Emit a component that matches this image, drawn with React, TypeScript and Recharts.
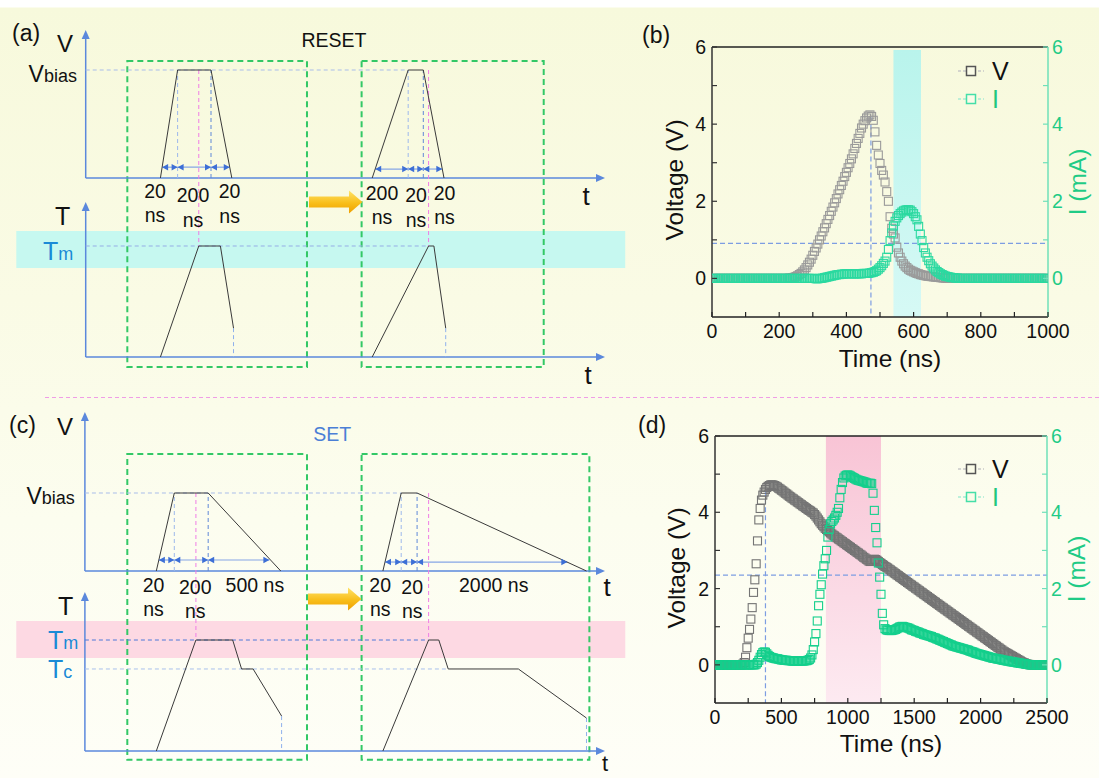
import React from 'react';
import {
  ComposedChart,
  Line,
  Scatter,
  XAxis,
  YAxis,
  ReferenceArea,
  ReferenceLine,
  ReferenceDot,
  Legend,
} from 'recharts';

const FONT = '"Liberation Sans", Arial, Helvetica, sans-serif';

// ---------- (b) RESET measurement, one sample every 5 ns (0 - 1000 ns) ----------
const resetStep = 5;
const resetVolt = [
  // 0-95
  0, 0, 0, 0, 0, 0, 0, 0, 0, 0, 0, 0, 0, 0, 0, 0, 0, 0, 0, 0,
  // 100-195
  0, 0, 0, 0, 0, 0, 0, 0, 0, 0, 0, 0, 0, 0, 0, 0, 0, 0, 0, 0,
  // 200-295
  0, 0, 0, 0, 0, 0, 0.01, 0.01, 0.02, 0.03, 0.05, 0.07, 0.1, 0.13, 0.17, 0.22, 0.28, 0.35, 0.42, 0.5,
  // 300-395
  0.6, 0.7, 0.79, 0.89, 1.0, 1.1, 1.21, 1.31, 1.42, 1.53, 1.63, 1.74, 1.85, 1.96, 2.07, 2.19, 2.3, 2.41, 2.52, 2.64,
  // 400-495
  2.75, 2.87, 2.98, 3.1, 3.23, 3.37, 3.5, 3.63, 3.76, 3.9, 4.0, 4.09, 4.16, 4.21, 4.24, 4.2, 4.1, 3.8, 3.45, 3.2,
  // 500-595
  2.98, 2.8, 2.68, 2.5, 2.25, 2.0, 1.6, 1.3, 1.15, 1.05, 0.81, 0.66, 0.55, 0.45, 0.38, 0.32, 0.28, 0.24, 0.21, 0.19,
  // 600-695
  0.17, 0.15, 0.13, 0.12, 0.1, 0.09, 0.08, 0.07, 0.06, 0.055, 0.05, 0.045, 0.04, 0.035, 0.03, 0.025, 0.02, 0.015, 0.01, 0.01,
  // 700-795
  0, 0, 0, 0, 0, 0, 0, 0, 0, 0, 0, 0, 0, 0, 0, 0, 0, 0, 0, 0,
  // 800-895
  0, 0, 0, 0, 0, 0, 0, 0, 0, 0, 0, 0, 0, 0, 0, 0, 0, 0, 0, 0,
  // 900-995
  0, 0, 0, 0, 0, 0, 0, 0, 0, 0, 0, 0, 0, 0, 0, 0, 0, 0, 0, 0,
  // 1000
  0,
];
const resetCurr = [
  // 0-95
  0, 0, 0, 0, 0, 0, 0, 0, 0, 0, 0, 0, 0, 0, 0, 0, 0, 0, 0, 0,
  // 100-195
  0, 0, 0, 0, 0, 0, 0, 0, 0, 0, 0, 0, 0, 0, 0, 0, 0, 0, 0, 0,
  // 200-295
  0, 0, 0, 0, 0, 0, 0, 0, 0, 0, 0, 0, 0, 0, 0, 0, 0, 0, 0, 0,
  // 300-395
  0, 0, -0.01, -0.01, 0, 0, 0.01, 0.02, 0.03, 0.04, 0.05, 0.06, 0.07, 0.08, 0.09, 0.1, 0.1, 0.11, 0.11, 0.12,
  // 400-495
  0.12, 0.12, 0.12, 0.12, 0.12, 0.12, 0.12, 0.12, 0.12, 0.12, 0.13, 0.13, 0.13, 0.13, 0.14, 0.15, 0.16, 0.18, 0.2, 0.24,
  // 500-595
  0.28, 0.33, 0.39, 0.45, 0.55, 0.75, 0.98, 1.18, 1.36, 1.48, 1.57, 1.63, 1.68, 1.72, 1.75, 1.77, 1.78, 1.78, 1.77, 1.73,
  // 600-695
  1.68, 1.6, 1.52, 1.35, 1.15, 0.98, 0.8, 0.66, 0.55, 0.46, 0.38, 0.32, 0.27, 0.22, 0.18, 0.15, 0.12, 0.1, 0.08, 0.06,
  // 700-795
  0.05, 0.04, 0.03, 0.02, 0.02, 0.01, 0.01, 0, 0, 0, 0, 0, 0, 0, 0, 0, 0, 0, 0, 0,
  // 800-895
  0, 0, 0, 0, 0, 0, 0, 0, 0, 0, 0, 0, 0, 0, 0, 0, 0, 0, 0, 0,
  // 900-995
  0, 0, 0, 0, 0, 0, 0, 0, 0, 0, 0, 0, 0, 0, 0, 0, 0, 0, 0, 0,
  // 1000
  0,
];

// ---------- (d) SET measurement, one sample every 10 ns (0 - 2500 ns) ----------
const setStep = 10;
const setVolt = [
  0, 0, 0, 0, 0, 0, 0, 0, 0, 0, // 0-90
  0, 0, 0, 0, 0, 0, 0, 0, 0, 0, // 100-190
  0, 0.02, 0.06, 0.2, 0.45, 0.7, 0.93, 1.2, 1.5, 1.9, // 200-290
  2.23, 2.65, 3.25, 3.8, 4.1, 4.32, 4.45, 4.53, 4.6, 4.65, // 300-390
  4.68, 4.7, 4.72, 4.72, 4.71, 4.7, 4.68, 4.66, 4.63, 4.61, // 400-490
  4.58, 4.56, 4.53, 4.5, 4.48, 4.45, 4.42, 4.4, 4.37, 4.35, // 500-590
  4.32, 4.3, 4.27, 4.25, 4.22, 4.2, 4.17, 4.15, 4.12, 4.1, // 600-690
  4.07, 4.05, 4.03, 4.0, 3.98, 3.94, 3.9, 3.85, 3.8, 3.75, // 700-790
  3.7, 3.66, 3.62, 3.58, 3.55, 3.52, 3.49, 3.46, 3.43, 3.4, // 800-890
  3.38, 3.35, 3.33, 3.3, 3.28, 3.25, 3.23, 3.2, 3.18, 3.15, // 900-990
  3.13, 3.1, 3.08, 3.05, 3.03, 3.0, 2.98, 2.95, 2.93, 2.9, // 1000-1090
  2.88, 2.85, 2.82, 2.8, 2.77, 2.75, 2.72, 2.71, 2.72, 2.75, // 1100-1190
  2.77, 2.76, 2.74, 2.71, 2.68, 2.66, 2.63, 2.61, 2.58, 2.56, // 1200-1290
  2.54, 2.51, 2.49, 2.46, 2.44, 2.41, 2.39, 2.36, 2.34, 2.31, // 1300-1390
  2.29, 2.26, 2.24, 2.21, 2.19, 2.16, 2.14, 2.11, 2.09, 2.06, // 1400-1490
  2.04, 2.01, 1.99, 1.96, 1.94, 1.91, 1.89, 1.86, 1.84, 1.81, // 1500-1590
  1.79, 1.76, 1.74, 1.71, 1.69, 1.66, 1.64, 1.61, 1.59, 1.56, // 1600-1690
  1.54, 1.51, 1.49, 1.46, 1.44, 1.41, 1.39, 1.36, 1.34, 1.31, // 1700-1790
  1.29, 1.26, 1.24, 1.21, 1.19, 1.16, 1.14, 1.11, 1.09, 1.06, // 1800-1890
  1.04, 1.01, 0.99, 0.96, 0.94, 0.91, 0.89, 0.86, 0.84, 0.81, // 1900-1990
  0.79, 0.76, 0.74, 0.71, 0.69, 0.66, 0.64, 0.61, 0.59, 0.56, // 2000-2090
  0.54, 0.51, 0.49, 0.46, 0.44, 0.41, 0.39, 0.36, 0.34, 0.32, // 2100-2190
  0.3, 0.28, 0.26, 0.24, 0.22, 0.2, 0.18, 0.16, 0.14, 0.12, // 2200-2290
  0.1, 0.08, 0.06, 0.05, 0.03, 0.02, 0.01, 0.01, 0, 0, // 2300-2390
  0, 0, 0, 0, 0, 0, 0, 0, 0, 0, // 2400-2490
  0, // 2500
];
const setCurr = [
  0, 0, 0, 0, 0, 0, 0, 0, 0, 0, // 0-90
  0, 0, 0, 0, 0, 0, 0, 0, 0, 0, // 100-190
  0, 0, 0, 0, 0, 0, 0, 0, 0, 0, // 200-290
  0, 0.02, 0.06, 0.12, 0.2, 0.27, 0.32, 0.34, 0.33, 0.29, // 300-390
  0.25, 0.22, 0.2, 0.19, 0.18, 0.17, 0.16, 0.16, 0.15, 0.14, // 400-490
  0.13, 0.13, 0.12, 0.12, 0.12, 0.11, 0.11, 0.11, 0.1, 0.1, // 500-590
  0.1, 0.1, 0.1, 0.1, 0.1, 0.1, 0.1, 0.1, 0.11, 0.11, // 600-690
  0.12, 0.14, 0.18, 0.26, 0.4, 0.6, 0.82, 1.15, 1.55, 1.85, // 700-790
  2.1, 2.38, 2.6, 2.78, 3.0, 3.35, 3.55, 3.7, 3.76, 3.8, // 800-890
  3.85, 3.92, 4.0, 4.1, 4.38, 4.6, 4.78, 4.9, 4.95, 4.97, // 900-990
  4.98, 4.97, 4.95, 4.93, 4.91, 4.89, 4.87, 4.85, 4.84, 4.83, // 1000-1090
  4.82, 4.81, 4.8, 4.79, 4.77, 4.76, 4.76, 4.76, 4.75, 4.5, // 1100-1190
  4.05, 3.6, 3.2, 2.67, 2.3, 1.85, 1.35, 1.05, 0.95, 0.92, // 1200-1290
  0.91, 0.9, 0.9, 0.9, 0.91, 0.92, 0.93, 0.95, 0.97, 0.99, // 1300-1390
  1.0, 1.01, 1.0, 0.99, 0.98, 0.97, 0.96, 0.94, 0.92, 0.91, // 1400-1490
  0.9, 0.88, 0.87, 0.86, 0.84, 0.83, 0.82, 0.8, 0.79, 0.78, // 1500-1590
  0.77, 0.76, 0.75, 0.74, 0.72, 0.71, 0.7, 0.68, 0.67, 0.65, // 1600-1690
  0.64, 0.62, 0.61, 0.59, 0.58, 0.56, 0.55, 0.53, 0.52, 0.5, // 1700-1790
  0.49, 0.48, 0.47, 0.46, 0.45, 0.44, 0.43, 0.42, 0.41, 0.4, // 1800-1890
  0.39, 0.38, 0.36, 0.35, 0.34, 0.33, 0.31, 0.3, 0.29, 0.28, // 1900-1990
  0.27, 0.26, 0.25, 0.24, 0.23, 0.22, 0.21, 0.2, 0.19, 0.18, // 2000-2090
  0.17, 0.17, 0.16, 0.15, 0.15, 0.14, 0.13, 0.12, 0.12, 0.11, // 2100-2190
  0.1, 0.1, 0.09, 0.08, 0.08, 0.07, 0.07, 0.06, 0.05, 0.05, // 2200-2290
  0.04, 0.04, 0.03, 0.03, 0.02, 0.01, 0.01, 0, 0, 0, // 2300-2390
  0, 0, 0, 0, 0, 0, 0, 0, 0, 0, // 2400-2490
  0, // 2500
];

const resetTimeTicks = [0, 100, 200, 300, 400, 500, 600, 700, 800, 900, 1000];
const resetTimeLabels = [0, 200, 400, 600, 800, 1000];
const setTimeTicks = [0, 250, 500, 750, 1000, 1250, 1500, 1750, 2000, 2250, 2500];
const setTimeLabels = [0, 500, 1000, 1500, 2000, 2500];
const valueTicks = [0, 1, 2, 3, 4, 5, 6];
const valueLabels = [0, 2, 4, 6];

// shaded windows and guide lines of the measurements
const resetWindow = [540, 622];
const resetGuide = { t: 473, v: 4.2, level: 0.91 };
const setWindow = [835, 1250];
const setGuide = { t: 380, v: 4.55, level: 2.35 };

// ---------- schematics: x in schematic time units (t axis 0..100), V in Vbias, T in Tm ----------
type Pt = { x: number; y: number };

const resetPulses: Pt[][] = [
  [{ x: 14.47, y: 0 }, { x: 17.8, y: 1 }, { x: 24.27, y: 1 }, { x: 28.3, y: 0 }],
  [{ x: 55.49, y: 0 }, { x: 62.46, y: 1 }, { x: 65.39, y: 1 }, { x: 69.4, y: 0 }],
];
const resetTemps: Pt[][] = [
  [{ x: 14.47, y: 0 }, { x: 21.9, y: 1 }, { x: 26.09, y: 1 }, { x: 28.63, y: 0.26 }],
  [{ x: 55.49, y: 0 }, { x: 66.41, y: 1 }, { x: 67.44, y: 1 }, { x: 69.73, y: 0.26 }],
];
const resetEdges = [17.8, 24.27, 62.46, 65.39];
const resetMelts = [21.9, 66.41];
const resetSpans = [
  { y: 0.1, xs: [14.8, 17.8, 24.27, 27.9] },
  { y: 0.083, xs: [56.07, 62.46, 65.39, 69.07] },
];

const setPulses: Pt[][] = [
  [{ x: 13.81, y: 0 }, { x: 17.29, y: 1 }, { x: 23.84, y: 1 }, { x: 37.88, y: 0 }],
  [{ x: 57.63, y: 0 }, { x: 61.17, y: 1 }, { x: 64.24, y: 1 }, { x: 97.0, y: 0 }],
];
const setTemps: Pt[][] = [
  [{ x: 13.81, y: 0 }, { x: 21.47, y: 1 }, { x: 28.58, y: 1 }, { x: 30.3, y: 0.739 }, { x: 32.53, y: 0.739 }, { x: 38.04, y: 0.315 }],
  [{ x: 57.63, y: 0 }, { x: 66.47, y: 1 }, { x: 68.44, y: 1 }, { x: 70.26, y: 0.739 }, { x: 83.83, y: 0.739 }, { x: 97.0, y: 0.297 }],
];
const setEdges = [17.29, 23.84, 61.17, 64.24];
const setMelts = [21.47, 66.47];
const setSpans = [
  { y: 0.141, xs: [14.3, 17.29, 23.84, 35.68] },
  { y: 0.115, xs: [58.04, 61.17, 64.24, 93.29] },
];

// ---------- helpers ----------
function head(cx: number, cy: number, dir: string, len: number, half: number, color: string, key: string) {
  let pts: string;
  if (dir === 'up') pts = `${cx},${cy} ${cx - half},${cy + len} ${cx + half},${cy + len}`;
  else if (dir === 'right') pts = `${cx},${cy} ${cx - len},${cy - half} ${cx - len},${cy + half}`;
  else pts = `${cx},${cy} ${cx + len},${cy - half} ${cx + len},${cy + half}`;
  return <polygon key={key} points={pts} fill={color} />;
}

function endMark(ends: string, color: string) {
  return (p: any) => {
    const { cx, cy, index } = p;
    const k = `e-${index}`;
    if (ends === 'both') return head(cx, cy, index === 0 ? 'left' : 'right', 6, 3.2, color, k);
    if (index !== 1) return <g key={k} />;
    return ends === 'up' ? head(cx, cy - 3, 'up', 9, 4, color, k) : head(cx + 3, cy, 'right', 9, 4, color, k);
  };
}

function seg(key: string, pts: Pt[], axis: string, color: string, opt: any = {}) {
  return (
    <Line
      key={key}
      data={pts}
      dataKey="y"
      xAxisId="s"
      yAxisId={axis}
      type="linear"
      stroke={color}
      strokeWidth={opt.w ?? 1}
      strokeDasharray={opt.dash}
      dot={opt.ends ? endMark(opt.ends, opt.ends === 'both' ? '#3d6fd6' : color) : false}
      activeDot={false}
      isAnimationActive={false}
      legendType="none"
    />
  );
}

const goldArrow = (id: string) => (p: any) => {
  const { cx, cy } = p;
  const pts = [[-26.7, -5.5], [13.3, -5.5], [13.3, -11.5], [26.7, 0], [13.3, 11.5], [13.3, 5.5], [-26.7, 5.5]]
    .map(([dx, dy]) => `${cx + dx},${cy + dy}`)
    .join(' ');
  return <polygon points={pts} fill={`url(#gold-${id})`} />;
};

function Schematic({ s }: { s: any }) {
  const xd = [-s.originX / s.unitX, (s.width - s.originX) / s.unitX];
  const vd = [-(s.height - s.vZero) / s.vUnit, s.vZero / s.vUnit];
  const td = [-(s.height - s.tZero) / s.tUnit, s.tZero / s.tUnit];
  const tInV = (t: number) => (s.vZero - s.tZero + t * s.tUnit) / s.vUnit;
  const AX = '#5b88dc';
  const lines: any[] = [];
  lines.push(seg('va', [{ x: 0, y: 0 }, { x: 0, y: s.vTop }], 'v', AX, { w: 1.5, ends: 'up' }));
  lines.push(seg('vt', [{ x: 0, y: 0 }, { x: 100, y: 0 }], 'v', AX, { w: 1.5, ends: 'right' }));
  lines.push(seg('ta', [{ x: 0, y: 0 }, { x: 0, y: s.tTop }], 't', AX, { w: 1.5, ends: 'up' }));
  lines.push(seg('tt', [{ x: 0, y: 0 }, { x: 100, y: 0 }], 't', AX, { w: 1.5, ends: 'right' }));
  lines.push(seg('vb', [{ x: 0, y: 1 }, { x: s.vbiasTo, y: 1 }], 'v', '#a9bde9', { dash: '4 3' }));
  lines.push(seg('tm', [{ x: 0, y: 1 }, { x: s.tmTo, y: 1 }], 't', s.tmColor, { dash: '4 3' }));
  if (s.tcLevel) {
    lines.push(seg('tc', [{ x: 0, y: s.tcLevel }, { x: s.tcTo, y: s.tcLevel }], 't', '#a9c0ec', { dash: '4 3' }));
  }
  s.edges.forEach((x: number, k: number) =>
    lines.push(seg(`ed${k}`, [{ x, y: 0 }, { x, y: 1 }], 'v', k % 2 === 0 ? '#9db8ec' : '#5f88d8', { dash: '4 3' })),
  );
  s.melts.forEach((x: number, k: number) =>
    lines.push(seg(`ml${k}`, [{ x, y: 1 }, { x, y: tInV(1) }], 'v', '#f07de6', { dash: '4 3' })),
  );
  s.temps.forEach((tp: Pt[], k: number) => {
    const last = tp[tp.length - 1];
    lines.push(seg(`dr${k}`, [{ x: last.x, y: last.y }, { x: last.x, y: 0 }], 't', '#8fb0ec', { dash: '4 3' }));
  });
  s.spans.forEach((sp: any, k: number) =>
    sp.xs.slice(1).forEach((x: number, j: number) =>
      lines.push(seg(`sp${k}-${j}`, [{ x: sp.xs[j], y: sp.y }, { x, y: sp.y }], 'v', '#86a6e6', { w: 1.2, ends: 'both' })),
    ),
  );
  s.pulses.forEach((p: Pt[], k: number) => lines.push(seg(`pv${k}`, p, 'v', '#3a3a3a')));
  s.temps.forEach((p: Pt[], k: number) => lines.push(seg(`pt${k}`, p, 't', '#3a3a3a')));

  return (
    <ComposedChart width={s.width} height={s.height} margin={{ top: 0, right: 0, bottom: 0, left: 0 }}>
      <defs>
        <linearGradient id={`gold-${s.id}`} x1="0" y1="0" x2="0" y2="1">
          <stop offset="0%" stopColor="#ffe36a" />
          <stop offset="55%" stopColor="#f8be1a" />
          <stop offset="100%" stopColor="#ee9f00" />
        </linearGradient>
      </defs>
      <XAxis xAxisId="s" dataKey="x" type="number" domain={xd} allowDataOverflow hide />
      <YAxis yAxisId="v" type="number" domain={vd} allowDataOverflow hide />
      <YAxis yAxisId="t" type="number" domain={td} allowDataOverflow hide />
      <ReferenceArea
        xAxisId="s"
        yAxisId="t"
        x1={s.band[0]}
        x2={s.band[1]}
        y1={s.band[2]}
        y2={s.band[3]}
        fill={s.bandColor}
        fillOpacity={1}
        stroke="none"
        ifOverflow="visible"
      />
      {s.boxes.map((b: number[], k: number) => (
        <ReferenceArea
          key={`box${k}`}
          xAxisId="s"
          yAxisId="v"
          x1={b[0]}
          x2={b[1]}
          y1={s.boxY[0]}
          y2={s.boxY[1]}
          fill="none"
          fillOpacity={0}
          stroke="#33c866"
          strokeWidth={2}
          strokeDasharray="6 4"
          ifOverflow="visible"
        />
      ))}
      {lines}
      <ReferenceDot
        xAxisId="s"
        yAxisId="v"
        x={s.arrow.x}
        y={s.arrow.y}
        r={0}
        ifOverflow="visible"
        shape={goldArrow(s.id)}
      />
    </ComposedChart>
  );
}

const resetSpec = {
  id: 'a', width: 640, height: 390,
  originX: 85.7, unitX: 5.163, vZero: 178, vUnit: 108, tZero: 357, tUnit: 111,
  vTop: 1.343, tTop: 1.369,
  pulses: resetPulses, temps: resetTemps, edges: resetEdges, melts: resetMelts, spans: resetSpans,
  vbiasTo: 62.42, tmTo: 66.41, tmColor: '#95ade6',
  boxes: [[8.06, 42.86], [53.44, 88.71]], boxY: [1.083, -1.75],
  band: [-13.44, 104.5, 0.802, 1.135], bandColor: '#c6f8f0',
  arrow: { x: 48.42, y: -0.222 },
};

const setSpec = {
  id: 'c', width: 640, height: 388,
  originX: 84.9, unitX: 5.171, vZero: 181, vUnit: 78, tZero: 361, tUnit: 111,
  vTop: 2.0, tTop: 1.405,
  pulses: setPulses, temps: setTemps, edges: setEdges, melts: setMelts, spans: setSpans,
  vbiasTo: 61.17, tmTo: 66.47, tmColor: '#4d78d8', tcLevel: 0.739, tcTo: 70.41,
  boxes: [[8.2, 42.95], [53.51, 97.56]], boxY: [1.5, -2.42],
  band: [-13.27, 104.5, 0.838, 1.171], bandColor: '#fdd9e3',
  arrow: { x: 48.31, y: -0.359 },
};

// ---------- measured panels ----------
const GREEN_AX = '#6fe0b9';
const GREEN_TX = '#1fcb86';
const TICK_FS = 19.5;

const bottomTick = (labels: number[]) => (p: any) => {
  const { x, y, payload } = p;
  const v = payload.value;
  return (
    <g key={`b-${v}`}>
      <line x1={x} x2={x} y1={y} y2={y - 5} stroke="#222" strokeWidth={1.2} />
      {labels.includes(v) && (
        <text x={x} y={y + 21} textAnchor="middle" fontSize={TICK_FS} fontFamily={FONT} fill="#111">
          {v}
        </text>
      )}
    </g>
  );
};

const leftTick = (p: any) => {
  const { x, y, payload } = p;
  const v = payload.value;
  return (
    <g key={`l-${v}`}>
      <line x1={x} x2={x + 5} y1={y} y2={y} stroke="#333" strokeWidth={1.2} />
      {valueLabels.includes(v) && (
        <text x={x - 6} y={y} dy="0.36em" textAnchor="end" fontSize={TICK_FS} fontFamily={FONT} fill="#111">
          {v}
        </text>
      )}
    </g>
  );
};

const rightTick = (p: any) => {
  const { x, y, payload } = p;
  const v = payload.value;
  return (
    <g key={`r-${v}`}>
      <line x1={x - 5} x2={x} y1={y} y2={y} stroke={GREEN_AX} strokeWidth={1.2} />
      {valueLabels.includes(v) && (
        <text x={x + 4} y={y} dy="0.36em" textAnchor="start" fontSize={TICK_FS} fontFamily={FONT} fill={GREEN_TX}>
          {v}
        </text>
      )}
    </g>
  );
};

const hollowSquare = (color: string) => (p: any) => (
  <rect x={p.cx - 4} y={p.cy - 4} width={8} height={8} fill="none" stroke={color} strokeWidth={1.1} />
);

const LegendBox = ({ items }: { items: any[] }) => (
  <div style={{ fontFamily: FONT }}>
    {items.map((it) => (
      <div key={it.label} style={{ display: 'flex', alignItems: 'center', height: 28 }}>
        <svg width={26} height={14} style={{ display: 'block' }}>
          <line x1={0} x2={26} y1={7} y2={7} stroke={it.dash} strokeWidth={1.5} strokeDasharray="3 2" />
          <rect x={8.5} y={2.5} width={9} height={9} fill="#fafbe8" stroke={it.color} strokeWidth={1.5} />
        </svg>
        <span style={{ marginLeft: 8, fontSize: 25, color: it.text, lineHeight: '28px' }}>{it.label}</span>
      </div>
    ))}
  </div>
);

const legendItems = [
  { label: 'V', color: '#555555', dash: '#c8c8c8', text: '#111' },
  { label: 'I', color: '#45dfa8', dash: '#a8ecd4', text: '#1fc77f' },
];

// axis boxes: left/right 40 px wide, bottom 30 px high, top 2 px high
const AXW = 40;
const AXH = 30;
const TOPH = 2;

function Measured({ m }: { m: any }) {
  const margin = {
    top: m.plot.top - TOPH,
    right: m.plot.right - AXW,
    bottom: m.plot.bottom - AXH,
    left: m.plot.left - AXW,
  };
  return (
    <ComposedChart width={m.width} height={m.height} data={m.rows} margin={margin}>
      <defs>
        <linearGradient id={`win-${m.id}`} x1="0" y1="0" x2="0" y2="1">
          <stop offset="0%" stopColor={m.windowFill[0]} />
          <stop offset="100%" stopColor={m.windowFill[1]} />
        </linearGradient>
      </defs>
      <XAxis
        xAxisId="bot"
        dataKey="t"
        type="number"
        domain={[0, m.xMax]}
        ticks={m.xTicks}
        interval={0}
        height={AXH}
        tickSize={0}
        tickMargin={0}
        tickLine={false}
        axisLine={{ stroke: '#222', strokeWidth: 1.5 }}
        tick={bottomTick(m.xLabels)}
        allowDataOverflow
      />
      <XAxis
        xAxisId="top"
        orientation="top"
        dataKey="t"
        type="number"
        domain={[0, m.xMax]}
        height={TOPH}
        tick={false}
        tickLine={false}
        axisLine={{ stroke: '#222', strokeWidth: 1.5 }}
        allowDataOverflow
      />
      <YAxis
        yAxisId="L"
        type="number"
        domain={[-1, 6]}
        ticks={valueTicks}
        interval={0}
        width={AXW}
        tickSize={0}
        tickMargin={0}
        tickLine={false}
        axisLine={{ stroke: '#333', strokeWidth: 1.5 }}
        tick={leftTick}
        allowDataOverflow
      />
      <YAxis
        yAxisId="R"
        orientation="right"
        type="number"
        domain={[-1, 6]}
        ticks={valueTicks}
        interval={0}
        width={AXW}
        tickSize={0}
        tickMargin={0}
        tickLine={false}
        axisLine={{ stroke: GREEN_AX, strokeWidth: 1.5 }}
        tick={rightTick}
        allowDataOverflow
      />
      <ReferenceArea
        xAxisId="bot"
        yAxisId="L"
        x1={m.window[0]}
        x2={m.window[1]}
        y1={-1}
        y2={m.windowTop}
        fill={`url(#win-${m.id})`}
        fillOpacity={1}
        stroke="none"
      />
      <ReferenceLine xAxisId="bot" yAxisId="L" y={m.guide.level} stroke="#7d9de2" strokeDasharray="5 3" strokeWidth={1.2} />
      <ReferenceLine
        xAxisId="bot"
        yAxisId="L"
        segment={[{ x: m.guide.t, y: m.guide.v }, { x: m.guide.t, y: -1 }]}
        stroke="#7d9de2"
        strokeDasharray="5 3"
        strokeWidth={1.2}
      />
      <Scatter xAxisId="bot" yAxisId="L" dataKey="v" name="V" shape={hollowSquare(m.voltColor)} isAnimationActive={false} />
      <Scatter xAxisId="bot" yAxisId="R" dataKey="i" name="I" shape={hollowSquare(m.currColor)} isAnimationActive={false} />
      <Legend
        layout="vertical"
        align="center"
        verticalAlign="middle"
        wrapperStyle={{ left: m.legend[0], top: m.legend[1], width: 70 }}
        content={() => <LegendBox items={legendItems} />}
      />
    </ComposedChart>
  );
}

const resetRows = resetVolt.map((v, k) => ({ t: k * resetStep, v, i: resetCurr[k] }));
const setRows = setVolt.map((v, k) => ({ t: k * setStep, v, i: setCurr[k] }));

const resetMeasured = {
  id: 'b', width: 459, height: 390,
  plot: { top: 47, right: 51, bottom: 73, left: 72 },
  rows: resetRows, xMax: 1000, xTicks: resetTimeTicks, xLabels: resetTimeLabels,
  window: resetWindow, windowTop: 5.92, windowFill: ['#b9f4ec', '#d6f9f5'],
  guide: resetGuide, voltColor: '#9a9a9a', currColor: '#2bd9a0',
  legend: [318, 57],
};

const setMeasured = {
  id: 'd', width: 459, height: 388,
  plot: { top: 46, right: 52, bottom: 75, left: 75 },
  rows: setRows, xMax: 2500, xTicks: setTimeTicks, xLabels: setTimeLabels,
  window: setWindow, windowTop: 6, windowFill: ['#f8c4d5', '#fdeaf1'],
  guide: setGuide, voltColor: '#747474', currColor: '#14cf8c',
  legend: [318, 65],
};

// ---------- text overlay ----------
const nsLabels = [
  // (a)
  [155, 198, '20'], [155, 222, 'ns'], [193, 201.7, '200'], [193, 226.7, 'ns'], [229.6, 198, '20'], [229.6, 222.7, 'ns'],
  [382, 200, '200'], [382, 224, 'ns'], [416, 201.7, '20'], [416, 226.7, 'ns'], [444.5, 200, '20'], [444.5, 224, 'ns'],
  // (c)
  [153.5, 592, '20'], [153.5, 616, 'ns'], [195.3, 594, '200'], [195.3, 618, 'ns'], [254.9, 592, '500 ns'],
  [380.2, 592, '20'], [380.2, 616, 'ns'], [412.2, 594, '20'], [412.2, 618, 'ns'], [493.7, 592, '2000 ns'],
];

function Overlay() {
  const TM = '#1a8ad6';
  const TITLE = 24.5;
  return (
    <svg
      width={1099}
      height={778}
      style={{ position: 'absolute', left: 0, top: 0, pointerEvents: 'none' }}
      fontFamily={FONT}
    >
      <line x1={45} x2={1099} y1={397.5} y2={397.5} stroke="#f09de6" strokeWidth={1} strokeDasharray="4 3" />

      {/* (a) */}
      <text x={12} y={41} fontSize={23} fill="#111">(a)</text>
      <text x={57} y={52} fontSize={24} fill="#111">V</text>
      <text x={334} y={46.7} fontSize={19.5} fill="#111" textAnchor="middle">RESET</text>
      <text x={28.6} y={82} fontSize={23} fill="#111">V<tspan fontSize={18}>bias</tspan></text>
      <text x={586} y={205} fontSize={26} fill="#111" textAnchor="middle">t</text>
      <text x={55} y={225} fontSize={25} fill="#111">T</text>
      <text x={43} y={260} fontSize={25} fill={TM}>T<tspan fontSize={18}>m</tspan></text>
      <text x={588} y={384} fontSize={26} fill="#111" textAnchor="middle">t</text>

      {/* (c) */}
      <text x={9} y={433} fontSize={23} fill="#111">(c)</text>
      <text x={57} y={435} fontSize={24} fill="#111">V</text>
      <text x={332.3} y={441} fontSize={19.5} fill="#4b7fd6" textAnchor="middle">SET</text>
      <text x={26.5} y={504} fontSize={23} fill="#111">V<tspan fontSize={18}>bias</tspan></text>
      <text x={607} y={596} fontSize={26} fill="#111" textAnchor="middle">t</text>
      <text x={58} y={615} fontSize={25} fill="#111">T</text>
      <text x={48} y={649} fontSize={25} fill={TM}>T<tspan fontSize={18}>m</tspan></text>
      <text x={48} y={678} fontSize={25} fill={TM}>T<tspan fontSize={18}>c</tspan></text>
      <text x={605} y={771} fontSize={22} fill="#111" textAnchor="middle">t</text>

      {nsLabels.map(([x, y, s], k) => (
        <text key={`ns${k}`} x={x as number} y={y as number} fontSize={19.5} fill="#111" textAnchor="middle">
          {s}
        </text>
      ))}

      {/* (b) */}
      <text x={642} y={43} fontSize={23} fill="#111">(b)</text>
      <text x={890} y={367} fontSize={TITLE} fill="#111" textAnchor="middle">Time (ns)</text>
      <text transform="translate(683,180) rotate(-90)" fontSize={TITLE} fill="#111" textAnchor="middle">Voltage (V)</text>
      <text transform="translate(1086,182) rotate(-90)" fontSize={TITLE} fill={GREEN_TX} textAnchor="middle">I (mA)</text>

      {/* (d) */}
      <text x={638} y={433} fontSize={23} fill="#111">(d)</text>
      <text x={891} y={752} fontSize={TITLE} fill="#111" textAnchor="middle">Time (ns)</text>
      <text transform="translate(685,568) rotate(-90)" fontSize={TITLE} fill="#111" textAnchor="middle">Voltage (V)</text>
      <text transform="translate(1085,569) rotate(-90)" fontSize={TITLE} fill={GREEN_TX} textAnchor="middle">I (mA)</text>
    </svg>
  );
}

export default function App() {
  return (
    <div
      style={{
        position: 'absolute',
        left: 0,
        top: 0,
        width: 1099,
        height: 778,
        overflow: 'hidden',
        fontFamily: FONT,
        background:
          'linear-gradient(180deg, #ffffff 0px, #ffffff 7px, #f7f9dc 8px, #fafbe5 300px, #fcfdef 520px, #fefef7 778px)',
      }}
    >
      <div style={{ position: 'absolute', left: 0, top: 0 }}>
        <Schematic s={resetSpec} />
      </div>
      <div style={{ position: 'absolute', left: 0, top: 390 }}>
        <Schematic s={setSpec} />
      </div>
      <div style={{ position: 'absolute', left: 640, top: 0 }}>
        <Measured m={resetMeasured} />
      </div>
      <div style={{ position: 'absolute', left: 640, top: 390 }}>
        <Measured m={setMeasured} />
      </div>
      <Overlay />
    </div>
  );
}
